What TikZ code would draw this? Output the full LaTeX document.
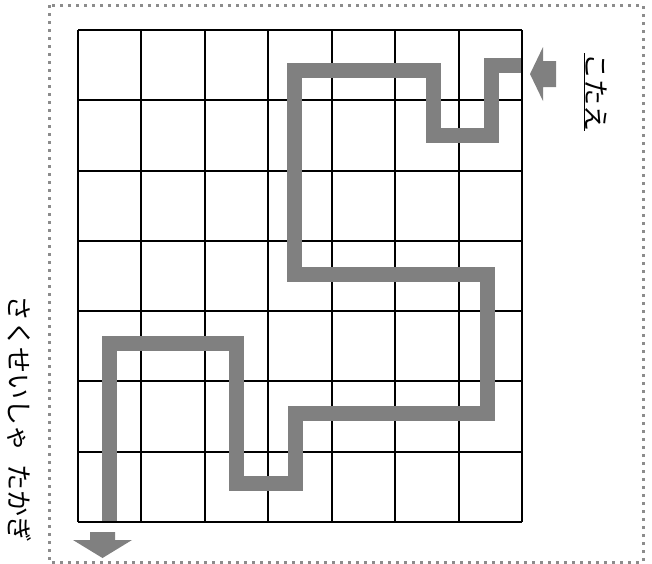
\documentclass[tikz,border=0pt]{standalone}
\usepackage{fontspec}
\newfontfamily\jpfont{Noto Sans CJK JP}
\usepackage{tikz}
\usetikzlibrary{calc}
\tikzset{
  frame/.style={draw=black!45, line width=3pt, dash pattern=on 3pt off 5pt},
  gridln/.style={draw=black, line width=2pt},
  route/.style={draw=black!50, line width=15pt, line join=miter, line cap=butt},
  blockarr/.style={fill=black!50, draw=none},
  vlbl/.style={font=\jpfont\fontsize{26}{26}\selectfont, rotate=-90, inner sep=0pt},
}

\begin{document}
\begin{tikzpicture}[x=1pt, y=-1pt]
\useasboundingbox (0,0) rectangle (652,563);
\draw[frame] (49,5) rectangle (643,562);
% 7x7 board
\foreach \i in {0,...,7} {
  \draw[gridln] (78+63.43*\i,30) -- (78+63.43*\i,522);
  \draw[gridln] (78,30+70.29*\i) -- (522,30+70.29*\i);
}
% answer route
\draw[route] (521,65.5) -- (491,65.5) -- (491,135) -- (433,135) -- (433,70)
  -- (294,70) -- (294,274) -- (487,274) -- (487,413) -- (295,413) -- (295,483)
  -- (236,483) -- (236,343) -- (109,343) -- (109,521);
% entry / exit arrows
\coordinate (inarr) at (530,74);
\coordinate (outarr) at (102.5,558);
\fill[blockarr] (inarr) -- ++(13,-27) -- ++(0,14) -- ++(13,0) -- ++(0,26)
  -- ++(-13,0) -- ++(0,14) -- cycle;
\fill[blockarr] (outarr) -- ++(-29.5,-18) -- ++(17,0) -- ++(0,-8) -- ++(25,0)
  -- ++(0,8) -- ++(17,0) -- cycle;
% labels
\node[vlbl] (maker) at (19,419) {さくせいしゃ\hspace{.5em}たかぎ};
\node[vlbl] (ans) at (595,92) {\underline{こたえ}};
\end{tikzpicture}
\end{document}
